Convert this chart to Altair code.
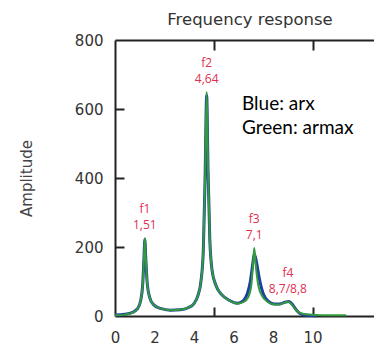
import altair as alt
import pandas as pd

# ---- data ----
freq_arx = [0, 0.5, 0.9, 1.15, 1.3, 1.4, 1.46, 1.51, 1.56, 1.63,
            1.75, 1.95, 2.3, 2.8, 3.3, 3.7, 4.0, 4.2, 4.35, 4.47,
            4.56, 4.64, 4.71, 4.8, 4.92, 5.1, 5.4, 5.8, 6.2, 6.5,
            6.7, 6.85, 6.97, 7.05, 7.15, 7.3, 7.5, 7.75, 8.05, 8.35,
            8.6, 8.8, 9.0, 9.2, 9.4, 9.7, 10.2]
amp_arx = [3, 5, 11, 22, 45, 90, 160, 222, 165, 95,
           55, 33, 22, 17, 18, 24, 36, 60, 100, 190,
           400, 640, 420, 220, 130, 90, 62, 45, 37, 45,
           65, 100, 150, 180, 160, 110, 65, 43, 35, 35,
           40, 42, 32, 16, 6, 2, 1]

freq_armax = [0, 0.5, 0.9, 1.15, 1.3, 1.4, 1.46, 1.51, 1.56, 1.63,
              1.75, 1.95, 2.3, 2.8, 3.3, 3.7, 4.0, 4.2, 4.35, 4.47,
              4.56, 4.64, 4.71, 4.8, 4.92, 5.1, 5.4, 5.8, 6.2, 6.5,
              6.75, 6.9, 7.0, 7.05, 7.12, 7.25, 7.45, 7.7, 8.0, 8.3,
              8.55, 8.75, 8.95, 9.15, 9.4, 9.8, 10.5, 11.7]
amp_armax = [2, 4, 10, 22, 45, 90, 160, 226, 165, 95,
             55, 33, 22, 17, 18, 24, 36, 60, 100, 190,
             400, 650, 420, 220, 130, 90, 62, 45, 36, 40,
             55, 90, 160, 197, 150, 90, 58, 42, 34, 33,
             38, 41, 33, 18, 8, 4, 2, 2]

peak_names = ["f1", "f2", "f3", "f4"]
peak_labels = ["1,51", "4,64", "7,1", "8,7/8,8"]
peak_freq = [1.51, 4.64, 7.05, 8.75]
peak_amp = [226, 650, 197, 41]

x_label_values = [0, 2, 4, 6, 8, 10]
x_inner_ticks = [5, 10]
y_label_values = [0, 200, 400, 600, 800]
y_inner_ticks = [200, 400, 600]
legend_lines = ["Blue: arx", "Green: armax"]
title_text = "Frequency response"

# ---- chart ----
W, H = 259, 276
X_MAX = 13.11
xs = alt.Scale(domain=[0, X_MAX], nice=False, zero=False)
ys = alt.Scale(domain=[0, 800], nice=False, zero=False)

arx_df = pd.DataFrame({"f": freq_arx, "a": amp_arx})
armax_df = pd.DataFrame({"f": freq_armax, "a": amp_armax})
peaks_df = pd.DataFrame({"f": peak_freq, "a": peak_amp,
                         "name": peak_names, "val": peak_labels})

AX = "#222222"
LBL = dict(labelFont="DejaVu Sans", labelFontSize=15, labelColor="#333333")

blue = alt.Chart(arx_df).mark_line(color="#1d3f9e", strokeWidth=3.0,
                                   interpolate="monotone").encode(
    x=alt.X("f:Q", scale=xs, axis=alt.Axis(
        orient="bottom", values=x_label_values, ticks=False, domain=True,
        domainColor=AX, domainWidth=2, labelPadding=14, title=None,
        labelFlush=False, grid=False, **LBL)),
    y=alt.Y("a:Q", scale=ys, axis=alt.Axis(
        orient="left", values=y_label_values, ticks=False, domain=True,
        domainColor=AX, domainWidth=2, labelPadding=12, grid=False,
        title="Amplitude", titleFont="DejaVu Sans", titleFontSize=15,
        titleFontWeight="normal", titleColor="#444444", titlePadding=40,
        **LBL)),
)

green = alt.Chart(armax_df).mark_line(color="#33993f", strokeWidth=2,
                                      interpolate="monotone").encode(
    x=alt.X("f:Q", scale=xs, axis=None),
    y=alt.Y("a:Q", scale=ys, axis=None),
)

# inward ticks on bottom (x) and left (y)
ticks_in = alt.Chart(peaks_df).mark_point(opacity=0).encode(
    x=alt.X("f:Q", scale=xs, axis=alt.Axis(
        orient="top", offset=-H, values=x_inner_ticks, labels=False,
        domain=False, ticks=True, tickSize=9, tickWidth=2, tickColor=AX,
        title=None, grid=False)),
    y=alt.Y("a:Q", scale=ys, axis=alt.Axis(
        orient="right", offset=-W, values=y_inner_ticks, labels=False,
        domain=False, ticks=True, tickSize=9, tickWidth=2, tickColor=AX,
        title=None, grid=False)),
)

# top border with inward ticks
top_border = alt.Chart(peaks_df).mark_point(opacity=0).encode(
    x=alt.X("f:Q", scale=xs, axis=alt.Axis(
        orient="bottom", offset=-H, values=x_inner_ticks, labels=False,
        domain=True, domainColor=AX, domainWidth=2, ticks=True,
        tickSize=10, tickWidth=2, tickColor=AX, title=None, grid=False)),
    y=alt.Y("a:Q", scale=ys, axis=None),
)

red = "#e0304f"
names = alt.Chart(peaks_df).mark_text(
    color=red, font="Open Sans", fontSize=12, dy=-29, baseline="middle"
).encode(x=alt.X("f:Q", scale=xs, axis=None),
         y=alt.Y("a:Q", scale=ys, axis=None), text="name:N")
vals = alt.Chart(peaks_df).mark_text(
    color=red, font="Open Sans", fontSize=12, dy=-13, baseline="middle"
).encode(x=alt.X("f:Q", scale=xs, axis=None),
         y=alt.Y("a:Q", scale=ys, axis=None), text="val:N")

legend_layers = []
for i, line in enumerate(legend_lines):
    legend_layers.append(
        alt.Chart(pd.DataFrame({"t": [line]})).mark_text(
            align="left", baseline="alphabetic", font="Lato", fontSize=19,
            color="black"
        ).encode(x=alt.value(127), y=alt.value(70 + 24 * i), text="t:N")
    )

title_layer = alt.Chart(pd.DataFrame({"t": [title_text]})).mark_text(
    align="center", baseline="alphabetic", font="DejaVu Sans", fontSize=16.5,
    color="#333333"
).encode(x=alt.value(135), y=alt.value(-15), text="t:N")

chart = alt.layer(blue, green, ticks_in, top_border, names, vals,
                  *legend_layers, title_layer).resolve_axis(
    x="independent", y="independent"
).properties(
    width=W, height=H,
    autosize=alt.AutoSizeParams(type="none"),
    padding={"left": 107, "top": 32, "right": 0, "bottom": 29},
).configure_view(stroke=None)

chart.save("out.html", embed_options={"renderer": "svg", "actions": False})
